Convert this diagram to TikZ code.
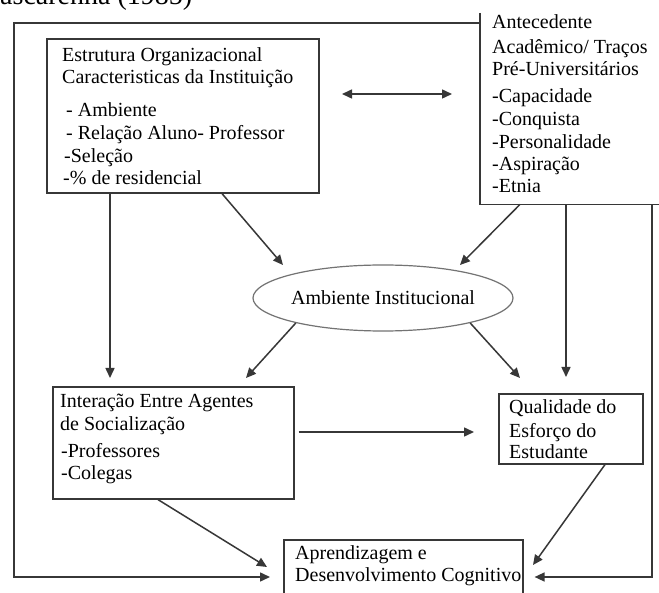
\documentclass[tikz,border=0pt]{standalone}
\usepackage{fontspec}
\setmainfont{Liberation Serif}
\usetikzlibrary{shapes.geometric,arrows.meta}
\definecolor{linegray}{RGB}{55,55,55}
\begin{document}
\begin{tikzpicture}[x=1pt,y=-1pt,
  box/.style={draw=linegray,line width=1.6pt,rectangle,inner sep=0pt,anchor=north west},
  hidbox/.style={rectangle,inner sep=0pt,anchor=north west},
  lbl/.style={anchor=base west,inner sep=0pt,font=\fontsize{20}{23}\selectfont},
  frame/.style={draw=linegray,line width=1.6pt},
  arr/.style={draw=linegray,line width=1.5pt,-{Triangle[length=10pt,width=9pt]}},
  dblarr/.style={draw=linegray,line width=1.5pt,{Triangle[length=10pt,width=9pt]}-{Triangle[length=10pt,width=9pt]}}]
\useasboundingbox (0,0) rectangle (659,593);
\clip (0,0) rectangle (659,593);
\fill[white] (0,0) rectangle (659,593);

% title fragment
\node[anchor=base west,inner sep=0pt,font=\fontsize{28}{30}\selectfont] (title) at (0,5) {ascarenha (1985)};

% boxes
\node[box,minimum width=272pt,minimum height=154pt] (estr) at (46,38) {};
\node[hidbox,minimum width=200pt,minimum height=191pt] (ante) at (480,13) {};
\draw[frame] (ante.north west) -- (ante.south west) -- (ante.south east);
\node[draw=black!55,line width=1.2pt,ellipse,inner sep=0pt,minimum width=230pt,minimum height=66pt,font=\fontsize{20}{23}\selectfont] (ell) at (383,298) {Ambiente Institucional};
\node[box,minimum width=241pt,minimum height=112pt] (inter) at (52,386) {};
\node[box,minimum width=144pt,minimum height=70pt] (qual) at (498,393) {};
\node[box,minimum width=239pt,minimum height=70pt] (apr) at (283,539) {};

% texts
\node[lbl] (e1) at (62,61.5) {Estrutura Organizacional};
\node[lbl] (e2) at (62,83.5) {Caracteristicas da Instituição};
\node[lbl] (e3) at (66,116.5) {- Ambiente};
\node[lbl] (e4) at (66,139.5) {- Relação Aluno- Professor};
\node[lbl] (e5) at (64,162.5) {-Seleção};
\node[lbl] (e6) at (63,184.5) {-\% de residencial};

\node[lbl] (a1) at (492,29) {Antecedente};
\node[lbl] (a2) at (492,54) {Acadêmico/ Traços};
\node[lbl] (a3) at (492,76) {Pré-Universitários};
\node[lbl] (a4) at (492,103) {-Capacidade};
\node[lbl] (a5) at (492,126) {-Conquista};
\node[lbl] (a6) at (492,149) {-Personalidade};
\node[lbl] (a7) at (492,171) {-Aspiração};
\node[lbl] (a8) at (492,193) {-Etnia};

\node[lbl] (i1) at (60,408) {Interação Entre Agentes};
\node[lbl] (i2) at (60,431) {de Socialização};
\node[lbl] (i3) at (61,458) {-Professores};
\node[lbl] (i4) at (61,480) {-Colegas};

\node[lbl] (q1) at (509,414) {Qualidade do};
\node[lbl] (q2) at (509,438) {Esforço do};
\node[lbl] (q3) at (509,459) {Estudante};

\node[lbl] (p1) at (295,559) {Aprendizagem e};
\node[lbl] (p2) at (295,581) {Desenvolvimento Cognitivo};

% free arrow ends
\coordinate (d1) at (342,94);
\coordinate (d2) at (452,94);
\coordinate (t1) at (283,265);
\coordinate (t2) at (460,265);
\coordinate (t5) at (246,378);
\coordinate (t6) at (520,378);
\coordinate (t8) at (267,567);
\coordinate (t9) at (533,565);

% connectors
\draw[dblarr] (d1) -- (d2);
\draw[arr] (estr.south -| 222,0) -- (t1);
\draw[arr] (ante.south -| 520,0) -- (t2);
\draw[arr,shorten >=8pt] (estr.south -| 110,0) -- (inter.north -| 110,0);
\draw[arr,shorten >=16pt] (ante.south -| 566,0) -- (qual.north -| 566,0);
\draw[arr] (ell.196) -- (t5);
\draw[arr] (ell.344) -- (t6);
\draw[arr,shorten <=4pt,shorten >=24pt] (inter.east |- 0,432) -- (qual.west |- 0,432);
\draw[arr] (inter.south -| 158,0) -- (t8);
\draw[arr] (qual.south -| 605,0) -- (t9);
\draw[arr,shorten >=13pt] (ante.west |- 0,23) -- (14,23) -- (14,577) -- (apr.west |- 0,577);
\draw[arr,shorten >=11pt] (ante.south -| 652,0) -- (652,577) -- (apr.east |- 0,577);
\end{tikzpicture}
\end{document}
